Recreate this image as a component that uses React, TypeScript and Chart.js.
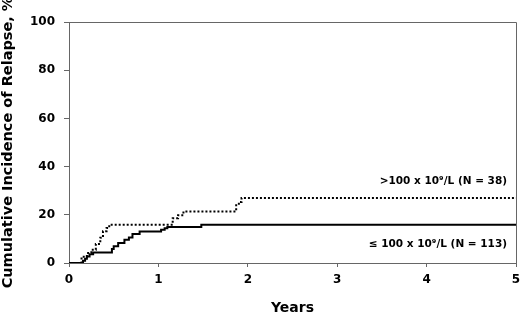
import React, { useEffect, useRef } from "react";
import { Chart, registerables } from "chart.js";

Chart.register(...registerables);

// Years and cumulative incidence (%) of each stepped curve
const lowYears = [0, 0.157, 0.18, 0.2, 0.23, 0.27, 0.48, 0.5, 0.55, 0.62, 0.67, 0.71, 0.79, 1.03, 1.07, 1.1, 1.48, 5];
const lowValues = [0, 0.9, 1.8, 2.7, 3.6, 4.4, 5.8, 7.0, 8.3, 9.6, 10.6, 12.0, 13.1, 13.8, 14.4, 14.9, 15.9, 15.9];

const highYears = [0, 0.14, 0.2, 0.25, 0.3, 0.35, 0.38, 0.42, 0.45, 1.16, 1.22, 1.28, 1.87, 1.9, 1.93, 5];
const highValues = [0, 2.6, 4.1, 5.5, 7.9, 10.5, 13.2, 14.5, 15.9, 18.6, 19.8, 21.4, 24.0, 25.3, 27.0, 27.0];

const seriesLabels = [">100 x 10\u2079/L (N = 38)", "\u2264 100 x 10\u2079/L (N = 113)"];
const labelValues = [34.1, 7.6];

const xTicks = [0, 1, 2, 3, 4, 5];
const yTicks = [0, 20, 40, 60, 80, 100];

const FONT = "'DejaVu Sans', Verdana, sans-serif";

export default function App() {
  const ref = useRef<HTMLCanvasElement | null>(null);

  useEffect(() => {
    if (!ref.current) return;

    const framePlugin = {
      id: "frame",
      afterDraw(chart: any) {
        const { ctx, chartArea } = chart;
        ctx.save();
        ctx.strokeStyle = "#666";
        ctx.lineWidth = 1;
        ctx.beginPath();
        const l = Math.round(chartArea.left) + 0.5;
        const r = Math.round(chartArea.right) + 0.5;
        const t = Math.round(chartArea.top) + 0.5;
        const b = Math.round(chartArea.bottom) + 0.5;
        ctx.moveTo(l, t);
        ctx.lineTo(r, t);
        ctx.lineTo(r, b);
        ctx.stroke();
        // series labels
        const xs = chart.scales.x;
        const ys = chart.scales.y;
        ctx.fillStyle = "#000";
        ctx.font = `bold 10.5px ${FONT}`;
        ctx.textAlign = "right";
        ctx.textBaseline = "middle";
        seriesLabels.forEach((txt, i) => {
          ctx.fillText(txt, xs.getPixelForValue(5) - 9, ys.getPixelForValue(labelValues[i]));
        });
        ctx.restore();
      },
    };

    const chart = new Chart(ref.current, {
      type: "line",
      data: {
        datasets: [
          {
            label: seriesLabels[1],
            data: lowYears.map((x, i) => ({ x, y: lowValues[i] })),
            borderColor: "#000",
            borderWidth: 2,
            pointRadius: 0,
            stepped: "before",
            fill: false,
          },
          {
            label: seriesLabels[0],
            data: highYears.map((x, i) => ({ x, y: highValues[i] })),
            borderColor: "#000",
            borderWidth: 2,
            borderDash: [2, 2],
            pointRadius: 0,
            stepped: "before",
            fill: false,
          },
        ],
      },
      options: {
        animation: false,
        responsive: false,
        layout: { padding: { top: 22, right: 4, left: 0, bottom: 0 } },
        plugins: { legend: { display: false }, tooltip: { enabled: false } },
        scales: {
          x: {
            type: "linear",
            min: 0,
            max: 5,
            afterBuildTicks: (s: any) => {
              s.ticks = xTicks.map((v) => ({ value: v }));
            },
            afterFit: (s: any) => {
              s.height = 50;
              s.paddingLeft = 0;
              s.paddingRight = 0;
            },
            ticks: {
              color: "#000",
              font: { family: FONT, weight: "bold", size: 12 },
              padding: 6,
              maxRotation: 0,
            },
            grid: { drawOnChartArea: false, drawTicks: true, tickLength: 4, color: "#666" },
            border: { color: "#666", width: 1 },
            title: {
              display: true,
              text: "Years",
              color: "#000",
              font: { family: FONT, weight: "bold", size: 14, lineHeight: 0.7 },
              padding: { top: 0, bottom: 0 },
            },
          },
          y: {
            type: "linear",
            min: 0,
            max: 100,
            afterBuildTicks: (s: any) => {
              s.ticks = yTicks.map((v) => ({ value: v }));
            },
            afterFit: (s: any) => {
              s.width = 69;
              s.paddingTop = 0;
              s.paddingBottom = 0;
            },
            ticks: {
              color: "#000",
              font: { family: FONT, weight: "bold", size: 12 },
              padding: 9,
            },
            grid: { drawOnChartArea: false, drawTicks: true, tickLength: 5, color: "#666" },
            border: { color: "#666", width: 1 },
            title: {
              display: true,
              text: "Cumulative Incidence of Relapse, %",
              color: "#000",
              font: { family: FONT, weight: "bold", size: 14.5 },
              padding: { top: 0, bottom: 0 },
            },
          },
        },
      },
      plugins: [framePlugin],
    } as any);

    return () => chart.destroy();
  }, []);

  return (
    <div style={{ position: "absolute", left: 0, top: 0, width: 520, height: 313, background: "#fff" }}>
      <canvas ref={ref} width={520} height={313} />
    </div>
  );
}
